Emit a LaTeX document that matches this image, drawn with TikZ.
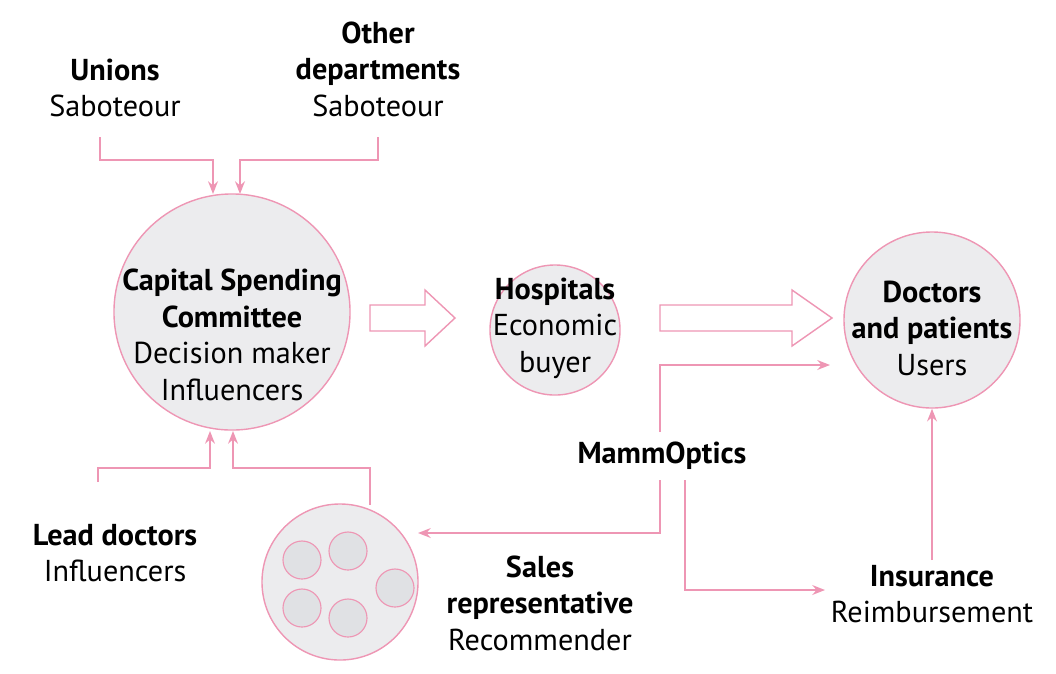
\documentclass[tikz,border=0pt]{standalone}
\usepackage{fontspec}
\setmainfont{PT Sans}
\usetikzlibrary{arrows.meta}

\definecolor{linepink}{RGB}{238,150,180}
\definecolor{bubblegray}{RGB}{236,236,238}
\definecolor{dotgray}{RGB}{224,225,228}

\tikzset{
  bubble/.style={circle, draw=linepink, line width=1pt, fill=bubblegray, inner sep=0pt},
  dot/.style={circle, draw=linepink, line width=0.8pt, fill=dotgray, minimum size=0.95cm, inner sep=0pt},
  label/.style={align=center, inner sep=0pt},
  link/.style={draw=linepink, line width=1.2pt},
  linkarrow/.style={link, -{Stealth[length=9pt,width=7pt]}},
  hollow/.style={draw=linepink, line width=1pt, fill=white, line join=miter}
}

\begin{document}
\begin{tikzpicture}[x=0.025cm, y=-0.025cm, font=\fontsize{21.5}{26}\selectfont]
\useasboundingbox (0,0) rectangle (1056,673);

% circles
\node[bubble, minimum size=5.9cm] (csc) at (232,312) {};
\node[bubble, minimum size=3.25cm] (hosp) at (555,330) {};
\node[bubble, minimum size=4.4cm] (docs) at (932,320) {};
\node[bubble, minimum size=3.9cm] (sales) at (340,582) {};
\node[dot] (d1) at (302,560) {};
\node[dot] (d2) at (348,551) {};
\node[dot] (d3) at (302,608) {};
\node[dot] (d4) at (348,618) {};
\node[dot] (d5) at (395,588) {};

% labels
\node[label] (cscText) at (232,335)
  {\textbf{Capital Spending}\\\textbf{Committee}\\Decision maker\\Influencers};
\node[label] (hospText) at (555,328) {\textbf{Hospitals}\\Economic\\buyer};
\node[label] (docsText) at (932,328) {\textbf{Doctors}\\\textbf{and patients}\\Users};
\node[label] (unions) at (115,88) {\textbf{Unions}\\Saboteour};
\node[label] (other) at (378,69) {\textbf{Other}\\\textbf{departments}\\Saboteour};
\node[label] (lead) at (115,553) {\textbf{Lead doctors}\\Influencers};
\node[label] (salesrep) at (540,603) {\textbf{Sales}\\\textbf{representative}\\Recommender};
\node[label] (ins) at (932,594) {\textbf{Insurance}\\Reimbursement};
\node[label] (mamm) at (662,456) {\textbf{MammOptics}};

% connectors
\coordinate (u0) at (100,137);
\coordinate (o0) at (378,137);
\draw[linkarrow] (u0) |- (213,160) -- (213,194);
\draw[linkarrow] (o0) |- (240,160) -- (240,194);
\coordinate (l0) at (98,482);
\coordinate (s0) at (370,505);
\draw[linkarrow] (l0) |- (210,468) -- (210,431);
\draw[linkarrow] (s0) |- (233,468) -- (233,431);

\coordinate (m1) at (660,432);
\coordinate (m2) at (660,480);
\coordinate (m3) at (685,480);
\coordinate (tipU) at (830,365);
\coordinate (tipL) at (418,533);
\coordinate (tipI) at (825,590);
\draw[linkarrow] (m1) |- (tipU);
\draw[linkarrow] (m2) |- (tipL);
\draw[linkarrow] (m3) |- (tipI);
\draw[linkarrow] (932,560) -- (docs.south);

% hollow arrows
\draw[hollow] (370,305) -- (425,305) -- (425,290) -- (455,318) -- (425,346) -- (425,331) -- (370,331) -- cycle;
\draw[hollow] (660,305) -- (792,305) -- (792,290) -- (832,318) -- (792,346) -- (792,331) -- (660,331) -- cycle;
\end{tikzpicture}
\end{document}
